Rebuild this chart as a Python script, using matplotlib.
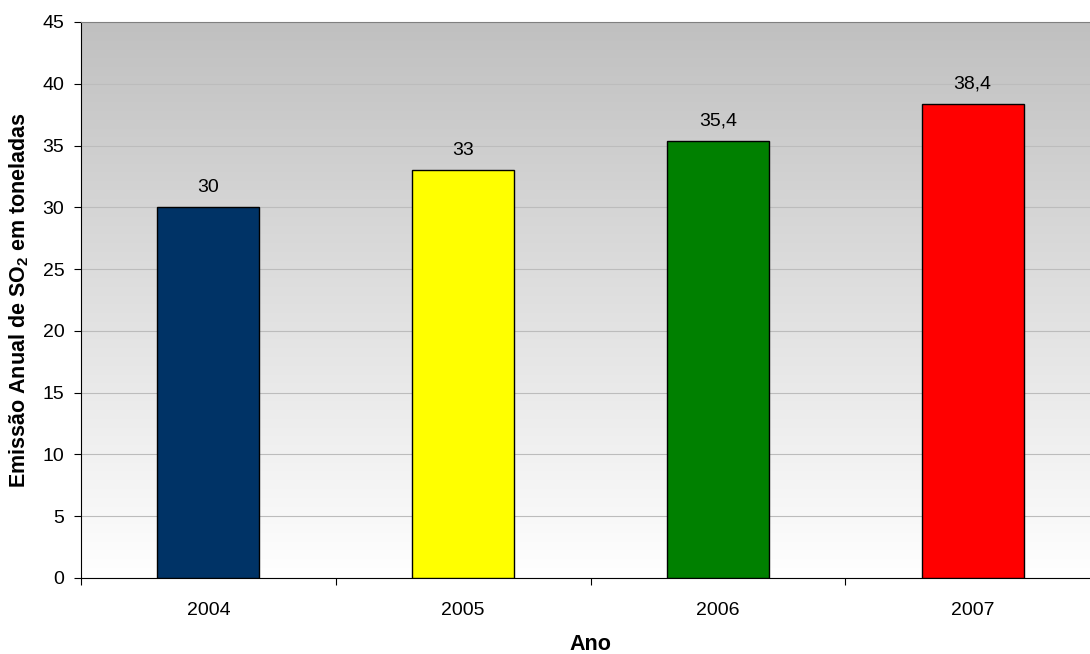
import numpy as np
import matplotlib
matplotlib.use("Agg")
import matplotlib.pyplot as plt
from matplotlib.colors import LinearSegmentedColormap

plt.rcParams.update({
    "font.family": ["Liberation Sans", "DejaVu Sans"],
    "mathtext.fontset": "custom",
    "mathtext.rm": "Liberation Sans",
    "mathtext.bf": "Liberation Sans:bold",
    "mathtext.default": "bf",
})

anos = ["2004", "2005", "2006", "2007"]
emissao = [30, 33, 35.4, 38.4]
cores = ["#003366", "#FFFF00", "#008000", "#FF0000"]
rotulos = ["30", "33", "35,4", "38,4"]

fig = plt.figure(figsize=(10.9, 6.54), dpi=100)
# a área de plotagem vai um pouco além da borda direita
ax = fig.add_axes([81 / 1090, 76 / 654, 1019 / 1090, 556 / 654])

x = np.arange(len(anos))
ax.set_xlim(-0.5, len(anos) - 0.5)
ax.set_ylim(0, 45)

# fundo em degradê: cinza no topo, branco embaixo
grad = LinearSegmentedColormap.from_list("fundo", ["#FFFFFF", "#C0C0C0"])
ax.imshow(np.linspace(0, 1, 256).reshape(-1, 1), cmap=grad, origin="lower",
          extent=[-0.5, len(anos) - 0.5, 0, 45], aspect="auto", zorder=0)

ax.yaxis.grid(True, color="#BCBCBC", lw=0.8, zorder=1)
ax.set_axisbelow(True)

ax.bar(x, emissao, width=0.4, color=cores, edgecolor="black", lw=1, zorder=3)
for xi, v, t in zip(x, emissao, rotulos):
    ax.text(xi, v + 0.9, t, ha="center", va="bottom", fontsize=14, zorder=4)

ax.set_yticks(np.arange(0, 46, 5))
ax.set_xticks(np.arange(-0.5, len(anos), 1.0))
ax.set_xticklabels([])
ax.set_xticks(x, minor=True)
ax.set_xticklabels(anos, minor=True)
ax.tick_params(axis="x", which="major", length=5, direction="out", color="black")
ax.tick_params(axis="x", which="minor", length=0, pad=17, labelsize=14)
ax.tick_params(axis="y", length=5, pad=7, direction="out", labelsize=14)

ax.spines["right"].set_visible(False)
ax.spines["top"].set_color("#808080")
ax.spines["left"].set_color("black")
ax.spines["bottom"].set_color("black")

ax.set_xlabel("Ano", fontsize=15.5, fontweight="bold", labelpad=11)
ax.set_ylabel("Emissão Anual de SO$_2$ em toneladas", fontsize=15.5,
              fontweight="bold", labelpad=8)

fig.savefig("out.png", dpi=100)
